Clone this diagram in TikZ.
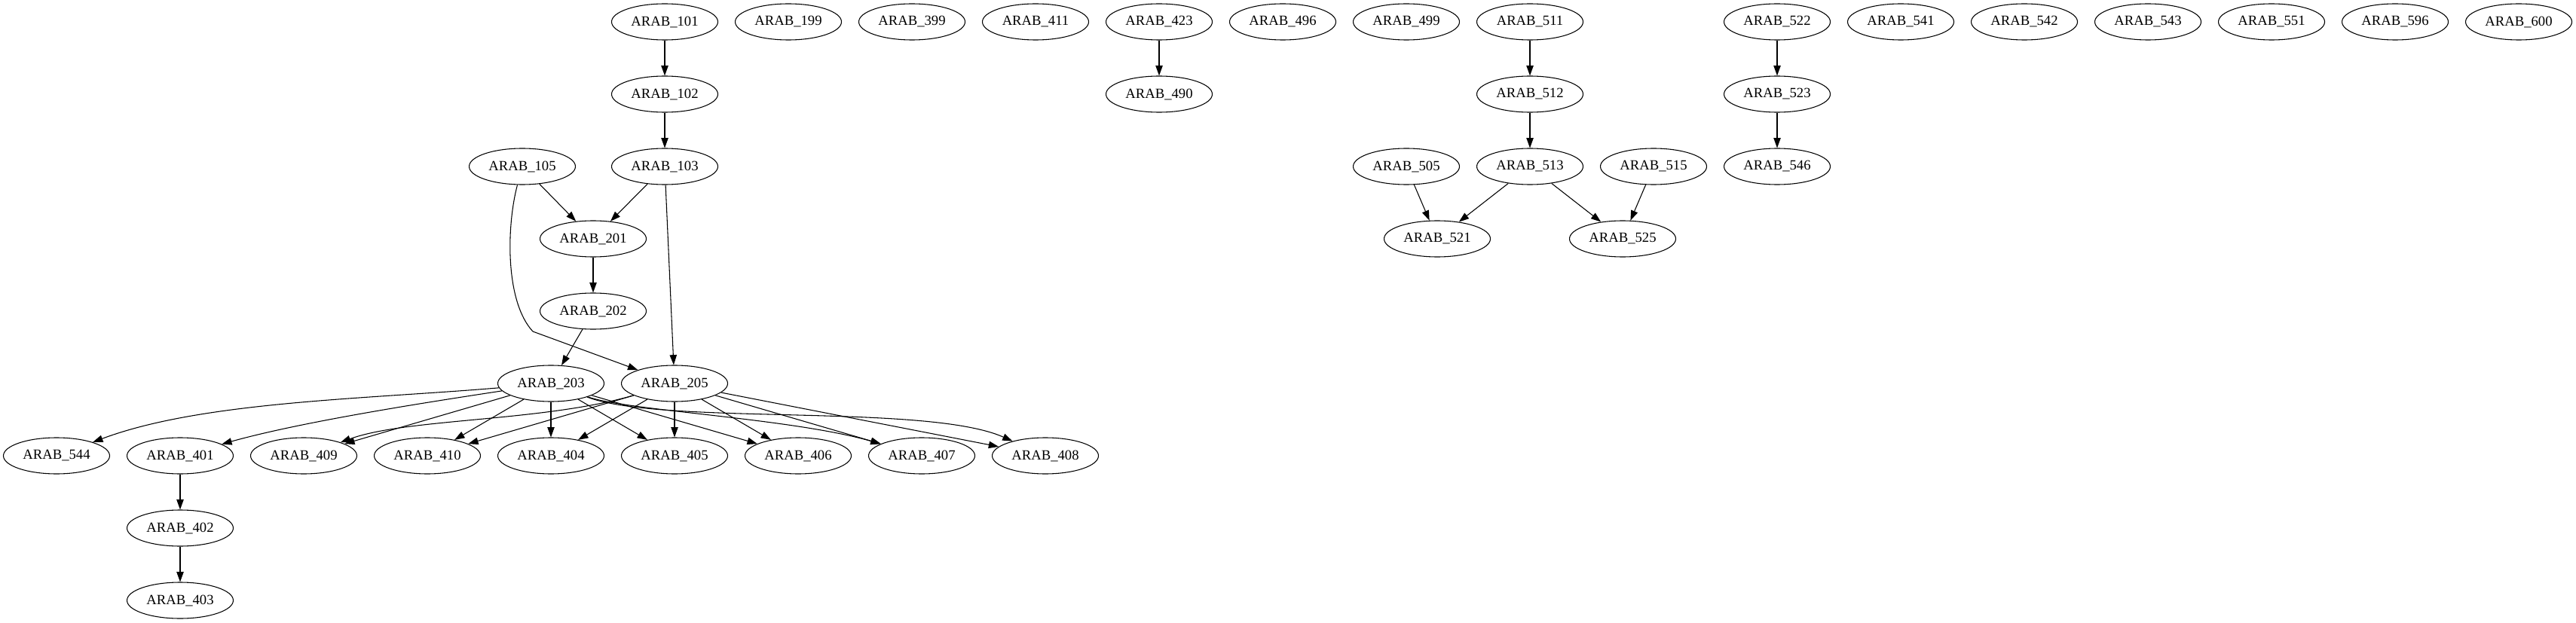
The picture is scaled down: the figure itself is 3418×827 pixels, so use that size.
\documentclass[tikz,border=0pt]{standalone}
\usepackage{fontspec}
\setmainfont{Liberation Serif}
\usetikzlibrary{shapes.geometric,arrows.meta}
\tikzset{
  gnode/.style={draw, ellipse, minimum width=105.75pt, minimum height=36pt, inner sep=0pt, line width=0.8pt, font=\fontsize{14}{16}\selectfont},
  gedge/.style={line width=0.8pt, -{Triangle[length=10pt,width=7pt]}},
}
\begin{document}
\begin{tikzpicture}[x=0.75pt,y=-0.75pt]
\useasboundingbox (0,0) rectangle (3418,827);
% row 0
\node[gnode] (n101) at (882,29) {ARAB\_101};
\node[gnode] (n199) at (1046,29) {ARAB\_199};
\node[gnode] (n399) at (1210,29) {ARAB\_399};
\node[gnode] (n411) at (1374,29) {ARAB\_411};
\node[gnode] (n423) at (1538,29) {ARAB\_423};
\node[gnode] (n496) at (1702,29) {ARAB\_496};
\node[gnode] (n499) at (1866,29) {ARAB\_499};
\node[gnode] (n511) at (2030,29) {ARAB\_511};
\node[gnode] (n522) at (2358,29) {ARAB\_522};
\node[gnode] (n541) at (2522,29) {ARAB\_541};
\node[gnode] (n542) at (2686,29) {ARAB\_542};
\node[gnode] (n543) at (2850,29) {ARAB\_543};
\node[gnode] (n551) at (3014,29) {ARAB\_551};
\node[gnode] (n596) at (3178,29) {ARAB\_596};
\node[gnode] (n600) at (3342,29) {ARAB\_600};
% row 1
\node[gnode] (n102) at (882,125) {ARAB\_102};
\node[gnode] (n490) at (1538,125) {ARAB\_490};
\node[gnode] (n512) at (2030,125) {ARAB\_512};
\node[gnode] (n523) at (2358,125) {ARAB\_523};
% row 2
\node[gnode] (n105) at (693,221) {ARAB\_105};
\node[gnode] (n103) at (882,221) {ARAB\_103};
\node[gnode] (n505) at (1866,221) {ARAB\_505};
\node[gnode] (n513) at (2030,221) {ARAB\_513};
\node[gnode] (n515) at (2194,221) {ARAB\_515};
\node[gnode] (n546) at (2358,221) {ARAB\_546};
% row 3
\node[gnode] (n201) at (787,317) {ARAB\_201};
\node[gnode] (n521) at (1907,317) {ARAB\_521};
\node[gnode] (n525) at (2153,317) {ARAB\_525};
% row 4
\node[gnode] (n202) at (787,413) {ARAB\_202};
% row 5
\node[gnode] (n203) at (731,509) {ARAB\_203};
\node[gnode] (n205) at (895,509) {ARAB\_205};
% row 6
\node[gnode] (n544) at (75,605) {ARAB\_544};
\node[gnode] (n401) at (239,605) {ARAB\_401};
\node[gnode] (n409) at (403,605) {ARAB\_409};
\node[gnode] (n410) at (567,605) {ARAB\_410};
\node[gnode] (n404) at (731,605) {ARAB\_404};
\node[gnode] (n405) at (895,605) {ARAB\_405};
\node[gnode] (n406) at (1059,605) {ARAB\_406};
\node[gnode] (n407) at (1223,605) {ARAB\_407};
\node[gnode] (n408) at (1387,605) {ARAB\_408};
% rows 7, 8
\node[gnode] (n402) at (239,701) {ARAB\_402};
\node[gnode] (n403) at (239,797) {ARAB\_403};
\coordinate (k1) at (707,440);
% edges
\draw[gedge] (n101) -- (n102);
\draw[gedge] (n102) -- (n103);
\draw[gedge] (n103) -- (n201);
\draw[gedge] (n105) -- (n201);
\draw[gedge] (n103) -- (n205);
\draw[gedge] (n105) .. controls (672,300) and (670,400) .. (k1) -- (n205);
\draw[gedge] (n201) -- (n202);
\draw[gedge] (n202) -- (n203);
\draw[gedge] (n203) .. controls (482,530) and (267,533) .. (n544);
\draw[gedge] (n203) .. controls (560,535) and (400,560) .. (n401);
\draw[gedge] (n203) -- (n409);
\draw[gedge] (n203) -- (n410);
\draw[gedge] (n203) -- (n404);
\draw[gedge] (n203) -- (n405);
\draw[gedge] (n203) -- (n406);
\draw[gedge] (n203) .. controls (830,545) and (1050,555) .. (n407);
\draw[gedge] (n203) .. controls (880,565) and (1230,535) .. (n408);
\draw[gedge] (n205) .. controls (720,560) and (540,555) .. (n409);
\draw[gedge] (n205) -- (n410);
\draw[gedge] (n205) -- (n404);
\draw[gedge] (n205) -- (n405);
\draw[gedge] (n205) -- (n406);
\draw[gedge] (n205) -- (n407);
\draw[gedge] (n205) -- (n408);
\draw[gedge] (n401) -- (n402);
\draw[gedge] (n402) -- (n403);
\draw[gedge] (n423) -- (n490);
\draw[gedge] (n511) -- (n512);
\draw[gedge] (n512) -- (n513);
\draw[gedge] (n513) -- (n521);
\draw[gedge] (n505) -- (n521);
\draw[gedge] (n513) -- (n525);
\draw[gedge] (n515) -- (n525);
\draw[gedge] (n522) -- (n523);
\draw[gedge] (n523) -- (n546);
\end{tikzpicture}
\end{document}
